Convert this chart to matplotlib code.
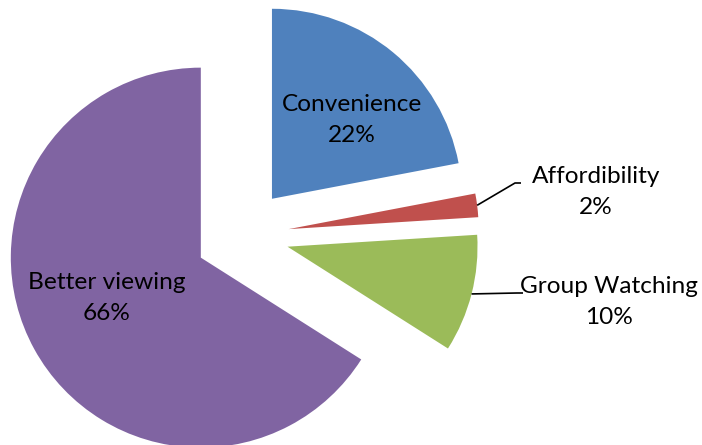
import numpy as np
import matplotlib.pyplot as plt

categories = ['Convenience', 'Affordibility', 'Group Watching', 'Better viewing']
values = [22, 2, 10, 66]
colors = ['#4F81BD', '#C0504D', '#9BBB59', '#8064A2']

W, H = 702, 445
cx, cy = 242, H - 235   # pie centre before explode, in pixels
R = 190
gap = 47                # explode offset, pixels (pie takes it in data units)

fig = plt.figure(figsize=(W / 100, H / 100), dpi=100)
ax = fig.add_axes([0, 0, 1, 1])
ax.pie(values, colors=colors, startangle=90, counterclock=False,
       explode=[gap] * len(values), radius=R, center=(cx, cy),
       wedgeprops=dict(linewidth=0))
ax.set_xlim(0, W)
ax.set_ylim(0, H)
ax.set_aspect('equal')
ax.axis('off')

font = dict(family='Lato', fontsize=17.6, color='black', ha='center', va='center')

# label positions (pixels from top-left)
label_pos = [(352, 120), (596, 192), (609, 302), (107, 298)]
leader = [False, True, True, False]
elbow = [None, (515, 183), (517, 293), None]

cum = 0
for name, v, (lx, ly), has_line, el in zip(categories, values, label_pos, leader, elbow):
    mid = np.radians(90 - (cum + v / 2) / 100 * 360)
    cum += v
    ax.text(lx, H - ly, f'{name}\n{v}%', linespacing=1.55, **font)
    if has_line:
        ox = cx + gap * np.cos(mid)
        oy = cy + gap * np.sin(mid)
        ex, ey = ox + R * np.cos(mid), oy + R * np.sin(mid)
        ax.plot([ex, el[0], el[0] + 6], [ey, H - el[1], H - el[1]],
                color='black', lw=1.2, solid_capstyle='butt')

fig.savefig('out.png', dpi=100)
